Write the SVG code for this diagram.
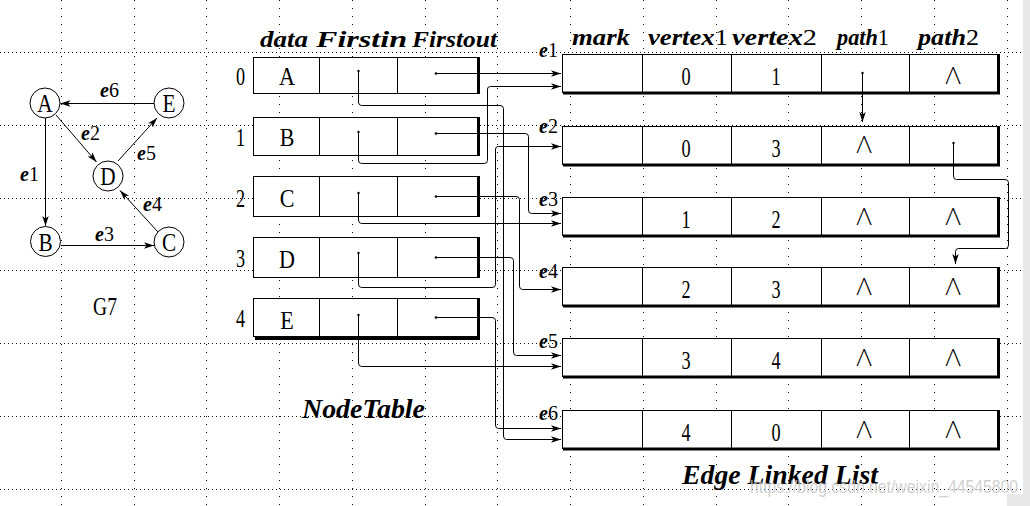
<svg xmlns="http://www.w3.org/2000/svg" width="1030" height="506" viewBox="0 0 1030 506">
<defs>
<style>
.gh{stroke:#111;stroke-width:1;stroke-dasharray:1 3;fill:none}
.gv{stroke:#111;stroke-width:1;stroke-dasharray:1 7;fill:none}
.box{fill:#fff;stroke:#000;stroke-width:1}
.sh{stroke:#000;stroke-width:3;fill:none}
.dv{stroke:#000;stroke-width:1;fill:none}
.ar{stroke:#000;stroke-width:1;fill:none;marker-end:url(#ah)}
.up{font-family:"Liberation Serif",serif;font-size:26px;fill:#000}
.hd{font-family:"Liberation Serif",serif;font-size:24px;font-weight:bold;font-style:italic;fill:#000}
.dg{font-style:normal;font-weight:normal}
.el{font-family:"Liberation Serif",serif;font-size:20px;fill:#000}
.it{font-style:italic;font-weight:bold}
.nl{font-family:Lato,"DejaVu Sans",sans-serif;font-size:24px;font-weight:300;fill:#000}
.ttl{font-family:"Liberation Serif",serif;font-size:27px;font-weight:bold;font-style:italic;fill:#000}
</style>
<marker id="ah" markerUnits="userSpaceOnUse" markerWidth="10" markerHeight="8" viewBox="0 0 10 8" refX="10" refY="4" orient="auto">
<path d="M0,0.8 L10,4 L0,7.2 L2.5,4 z" fill="#000"/>
</marker>
</defs>
<rect width="1030" height="506" fill="#fff"/>
<g id="grid">
<path class="gh" d="M0,52.5H1023M0,125.5H1023M0,198.5H1023M0,270.5H1023M0,343.5H1023M0,416.5H1023M0,489.5H1023"/>
<path class="gv" d="M61.5,0V506M134.5,0V506M206.5,0V506M279.5,0V506M352.5,0V506M425.5,0V506M497.5,0V506M570.5,0V506M643.5,0V506M716.5,0V506M788.5,0V506M861.5,0V506M934.5,0V506M1007.5,0V506"/>
</g>

<g id="graph-edges">
<path class="ar" d="M154,103.5H60.5"/>
<path class="ar" d="M45.5,118V226"/>
<path class="ar" d="M61,245.5H154"/>
<path class="ar" d="M56,115L96.5,162"/>
<path class="ar" d="M118,161L157,118"/>
<path class="ar" d="M158,232L120,190.5"/>
</g>
<g id="graph-labels">
<text class="el" x="100" y="97"><tspan class="it">e</tspan>6</text>
<text class="el" x="81" y="140"><tspan class="it">e</tspan>2</text>
<text class="el" x="20" y="181"><tspan class="it">e</tspan>1</text>
<text class="el" x="137" y="160"><tspan class="it">e</tspan>5</text>
<text class="el" x="143" y="211"><tspan class="it">e</tspan>4</text>
<text class="el" x="95" y="241"><tspan class="it">e</tspan>3</text>
</g>
<g id="gA"><circle cx="45" cy="103" r="15" class="box"/><text class="up" text-anchor="middle" transform="translate(45,112) scale(0.82,1)">A</text></g>
<g id="gE"><circle cx="169" cy="103" r="15" class="box"/><text class="up" text-anchor="middle" transform="translate(169,112) scale(0.82,1)">E</text></g>
<g id="gD"><circle cx="108" cy="176" r="15" class="box"/><text class="up" text-anchor="middle" transform="translate(108,185) scale(0.82,1)">D</text></g>
<g id="gB"><circle cx="45.5" cy="241.5" r="15" class="box"/><text class="up" text-anchor="middle" transform="translate(45.5,250.5) scale(0.82,1)">B</text></g>
<g id="gC"><circle cx="169" cy="242" r="15" class="box"/><text class="up" text-anchor="middle" transform="translate(169,251) scale(0.82,1)">C</text></g>
<text id="g7" class="up" text-anchor="middle" transform="translate(105,315) scale(0.75,1)">G7</text>

<g id="nt-header">
<text class="hd" x="260" y="47" textLength="48" lengthAdjust="spacingAndGlyphs">data</text>
<text class="hd" x="316" y="47" textLength="91" lengthAdjust="spacingAndGlyphs">Firstin</text>
<text class="hd" x="412" y="47" textLength="85" lengthAdjust="spacingAndGlyphs">Firstout</text>
</g>

<g id="row0">
<text class="up" text-anchor="middle" transform="translate(240.5,85) scale(0.7,1)">0</text>
<rect class="box" x="253.5" y="57.5" width="224" height="36"/>
<path class="dv" d="M319.5,57.5V93.5M397.5,57.5V93.5"/>
<path class="sh" d="M478.5,57V94"/>
<text class="up" text-anchor="middle" transform="translate(287,85) scale(0.85,1)">A</text>
</g>
<g id="row1">
<text class="up" text-anchor="middle" transform="translate(240.5,146) scale(0.7,1)">1</text>
<rect class="box" x="253.5" y="117.5" width="224" height="38"/>
<path class="dv" d="M319.5,117.5V155.5M397.5,117.5V155.5"/>
<path class="sh" d="M478.5,117V156"/>
<text class="up" text-anchor="middle" transform="translate(287,146) scale(0.85,1)">B</text>
</g>
<g id="row2">
<text class="up" text-anchor="middle" transform="translate(240.5,207) scale(0.7,1)">2</text>
<rect class="box" x="253.5" y="176.5" width="224" height="40"/>
<path class="dv" d="M319.5,176.5V216.5M397.5,176.5V216.5"/>
<path class="sh" d="M478.5,176V217"/>
<text class="up" text-anchor="middle" transform="translate(287,207) scale(0.85,1)">C</text>
</g>
<g id="row3">
<text class="up" text-anchor="middle" transform="translate(240.5,267) scale(0.7,1)">3</text>
<rect class="box" x="253.5" y="237.5" width="224" height="40"/>
<path class="dv" d="M319.5,237.5V277.5M397.5,237.5V277.5"/>
<path class="sh" d="M478.5,237V278"/>
<text class="up" text-anchor="middle" transform="translate(287,268) scale(0.85,1)">D</text>
</g>
<g id="row4">
<text class="up" text-anchor="middle" transform="translate(240.5,327) scale(0.7,1)">4</text>
<rect class="box" x="253.5" y="298.5" width="224" height="38"/>
<path class="dv" d="M319.5,298.5V336.5M397.5,298.5V336.5"/>
<path class="sh" d="M478.5,298V340M255,338.5H480"/>
<text class="up" text-anchor="middle" transform="translate(287,329) scale(0.85,1)">E</text>
</g>
<text id="nodetable-title" class="ttl" x="302" y="418" textLength="123" lengthAdjust="spacingAndGlyphs">NodeTable</text>

<g id="el-header">
<text class="hd" x="572" y="45" textLength="58" lengthAdjust="spacingAndGlyphs">mark</text>
<text class="hd" x="648" y="45" textLength="80" lengthAdjust="spacingAndGlyphs">vertex<tspan class="dg">1</tspan></text>
<text class="hd" x="732" y="45" textLength="85" lengthAdjust="spacingAndGlyphs">vertex<tspan class="dg">2</tspan></text>
<text class="hd" x="837" y="45" textLength="52" lengthAdjust="spacingAndGlyphs">path<tspan class="dg">1</tspan></text>
<text class="hd" x="918" y="45" textLength="61" lengthAdjust="spacingAndGlyphs">path<tspan class="dg">2</tspan></text>
</g>

<g id="e1">
<text class="el" x="558" y="57" text-anchor="end"><tspan class="it">e</tspan>1</text>
<rect class="box" x="562.5" y="54.5" width="435" height="38"/>
<path class="dv" d="M642.5,54.5V92.5M731.5,54.5V92.5M821.5,54.5V92.5M909.5,54.5V92.5"/>
<path class="sh" d="M998.5,54V94.5M563,93H1000"/>
<text class="up" text-anchor="middle" transform="translate(686,85) scale(0.7,1)">0</text>
<text class="up" text-anchor="middle" transform="translate(776,85) scale(0.7,1)">1</text>
<text class="nl" text-anchor="middle" x="953" y="83.5">Λ</text>
</g>
<g id="e2">
<text class="el" x="558" y="133" text-anchor="end"><tspan class="it">e</tspan>2</text>
<rect class="box" x="562.5" y="126.5" width="435" height="38"/>
<path class="dv" d="M642.5,126.5V164.5M731.5,126.5V164.5M821.5,126.5V164.5M909.5,126.5V164.5"/>
<path class="sh" d="M998.5,126V166.5M563,165H1000"/>
<text class="up" text-anchor="middle" transform="translate(686,157) scale(0.7,1)">0</text>
<text class="up" text-anchor="middle" transform="translate(776,157) scale(0.7,1)">3</text>
<text class="nl" text-anchor="middle" x="864" y="153">Λ</text>
</g>
<g id="e3">
<text class="el" x="558" y="206" text-anchor="end"><tspan class="it">e</tspan>3</text>
<rect class="box" x="562.5" y="197.5" width="435" height="38"/>
<path class="dv" d="M642.5,197.5V235.5M731.5,197.5V235.5M821.5,197.5V235.5M909.5,197.5V235.5"/>
<path class="sh" d="M998.5,197V237.5M563,236H1000"/>
<text class="up" text-anchor="middle" transform="translate(686,228) scale(0.7,1)">1</text>
<text class="up" text-anchor="middle" transform="translate(776,228) scale(0.7,1)">2</text>
<text class="nl" text-anchor="middle" x="864" y="225">Λ</text>
<text class="nl" text-anchor="middle" x="953" y="225">Λ</text>
</g>
<g id="e4">
<text class="el" x="558" y="278" text-anchor="end"><tspan class="it">e</tspan>4</text>
<rect class="box" x="562.5" y="267.5" width="435" height="38"/>
<path class="dv" d="M642.5,267.5V305.5M731.5,267.5V305.5M821.5,267.5V305.5M909.5,267.5V305.5"/>
<path class="sh" d="M998.5,267V307.5M563,306H1000"/>
<text class="up" text-anchor="middle" transform="translate(686,298) scale(0.7,1)">2</text>
<text class="up" text-anchor="middle" transform="translate(776,298) scale(0.7,1)">3</text>
<text class="nl" text-anchor="middle" x="864" y="295">Λ</text>
<text class="nl" text-anchor="middle" x="953" y="295">Λ</text>
</g>
<g id="e5">
<text class="el" x="558" y="348" text-anchor="end"><tspan class="it">e</tspan>5</text>
<rect class="box" x="562.5" y="338.5" width="435" height="38"/>
<path class="dv" d="M642.5,338.5V376.5M731.5,338.5V376.5M821.5,338.5V376.5M909.5,338.5V376.5"/>
<path class="sh" d="M998.5,338V378.5M563,377H1000"/>
<text class="up" text-anchor="middle" transform="translate(686,369) scale(0.7,1)">3</text>
<text class="up" text-anchor="middle" transform="translate(776,369) scale(0.7,1)">4</text>
<text class="nl" text-anchor="middle" x="864" y="366">Λ</text>
<text class="nl" text-anchor="middle" x="953" y="366">Λ</text>
</g>
<g id="e6">
<text class="el" x="558" y="420" text-anchor="end"><tspan class="it">e</tspan>6</text>
<rect class="box" x="562.5" y="410.5" width="435" height="38"/>
<path class="dv" d="M642.5,410.5V448.5M731.5,410.5V448.5M821.5,410.5V448.5M909.5,410.5V448.5"/>
<path class="sh" d="M998.5,410V450.5M563,449H1000"/>
<text class="up" text-anchor="middle" transform="translate(686,441) scale(0.7,1)">4</text>
<text class="up" text-anchor="middle" transform="translate(776,441) scale(0.7,1)">0</text>
<text class="nl" text-anchor="middle" x="864" y="438">Λ</text>
<text class="nl" text-anchor="middle" x="953" y="438">Λ</text>
</g>
<text id="edgelist-title" class="ttl" x="682" y="484" textLength="196" lengthAdjust="spacingAndGlyphs">Edge Linked List</text>

<g id="connectors">
<path class="ar" d="M436,73.5H561"/>
<path class="ar" d="M358.5,71V102Q358.5,105.5 361.5,105.5H500Q503.5,105.5 503.5,108.5V436Q503.5,439.5 506.5,439.5H561"/>
<path class="ar" d="M358.5,132V160Q358.5,163.5 361.5,163.5H484Q487.5,163.5 487.5,160.5V89Q487.5,86.5 490.5,86.5H561"/>
<path class="ar" d="M436,133.5H525Q528.5,133.5 528.5,136.5V210Q528.5,213.5 531.5,213.5H561"/>
<path class="ar" d="M358.5,193V220Q358.5,223.5 361.5,223.5H561"/>
<path class="ar" d="M436,196.5H516Q519.5,196.5 519.5,199.5V286Q519.5,289.5 522.5,289.5H561"/>
<path class="ar" d="M358.5,253V284Q358.5,287.5 361.5,287.5H492Q495.5,287.5 495.5,284.5V149Q495.5,146.5 498.5,146.5H561"/>
<path class="ar" d="M436,257.5H510Q513.5,257.5 513.5,260.5V352Q513.5,355.5 516.5,355.5H561"/>
<path class="ar" d="M358.5,315V363Q358.5,366.5 361.5,366.5H561"/>
<path class="ar" d="M436,317.5H492Q495.5,317.5 495.5,320.5V425Q495.5,428.5 498.5,428.5H561"/>
<path class="ar" d="M862.5,73V122"/>
<path class="ar" d="M953.5,143V176Q953.5,179.5 956.5,179.5H1005Q1008.5,179.5 1008.5,182.5V245Q1008.5,248.5 1005.5,248.5H958.5Q955.5,248.5 955.5,251.5V264"/>
<g fill="#000">
<circle cx="436" cy="73.5" r="1.3"/><circle cx="436" cy="133.5" r="1.3"/><circle cx="436" cy="196.5" r="1.3"/><circle cx="436" cy="257.5" r="1.3"/><circle cx="436" cy="317.5" r="1.3"/>
<circle cx="358.5" cy="71" r="1.2"/><circle cx="358.5" cy="132" r="1.2"/><circle cx="358.5" cy="193" r="1.2"/><circle cx="358.5" cy="253" r="1.2"/><circle cx="358.5" cy="315" r="1.2"/>
<circle cx="862.5" cy="73" r="1.2"/><circle cx="953.5" cy="143" r="1.2"/>
</g>
</g>

<rect x="1023" y="0" width="7" height="506" fill="#e8e8e8"/>
<rect x="1007" y="494" width="23" height="12" fill="#e8e8e8"/>
<text id="watermark" x="750" y="493" font-family="Liberation Sans, sans-serif" font-size="18" fill="#c8c8c8" fill-opacity="0.85" textLength="268" lengthAdjust="spacingAndGlyphs">https://blog.csdn.net/weixin_44545800</text>
</svg>
